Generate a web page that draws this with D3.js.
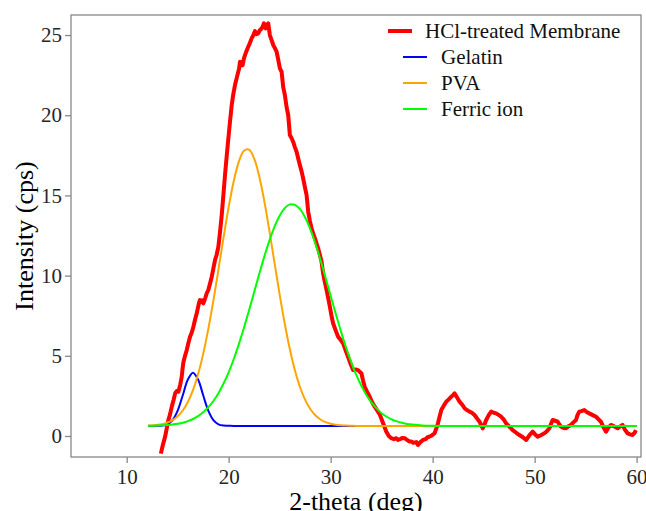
<!DOCTYPE html>
<html>
<head>
<meta charset="utf-8">
<script src="https://cdn.jsdelivr.net/npm/d3@7"></script>
<style>
  html, body { margin: 0; padding: 0; background: #fff; }
  svg { display: block; }
  text { font-family: "Liberation Serif", "Times New Roman", serif; }
</style>
</head>
<body>
<svg id="chart" width="646" height="511"></svg>
<script>
// ---------- DATA ----------
const seriesNames = ["HCl-treated Membrane", "Gelatin", "PVA", "Ferric ion"];
const seriesColors = ["#ff0000", "#0000ff", "#ffa500", "#00ff00"];

const xTicks = [10, 20, 30, 40, 50, 60];
const yTicks = [0, 5, 10, 15, 20, 25];

// measured membrane pattern (2-theta, intensity)
const membraneX = [13.35,13.55,13.77,13.95,14.09,14.25,14.42,14.60,14.75,14.90,15.07,15.25,15.40,15.48,15.56,15.72,15.89,16.05,16.21,16.38,16.54,16.70,16.87,17.02,17.12,17.19,17.30,17.42,17.52,17.70,17.85,18.00,18.17,18.34,18.50,18.66,18.82,18.99,19.15,19.32,19.48,19.64,19.80,19.97,20.13,20.30,20.45,20.62,20.78,20.94,21.02,21.11,21.22,21.37,21.48,21.60,21.75,21.92,22.08,22.25,22.42,22.58,22.72,22.90,23.05,23.23,23.35,23.46,23.55,23.65,23.75,23.88,23.95,24.04,24.20,24.37,24.52,24.70,24.85,25.02,25.19,25.35,25.51,25.68,25.84,26.00,26.15,26.32,26.50,26.66,26.82,26.98,27.15,27.30,27.48,27.64,27.80,27.97,28.13,28.30,28.45,28.62,28.77,28.94,29.10,29.26,29.43,29.60,29.76,29.92,30.08,30.24,30.48,30.73,30.97,31.22,31.46,31.71,31.95,32.20,32.45,32.69,32.85,33.02,33.18,33.34,33.58,33.83,34.07,34.32,34.56,34.81,35.05,35.20,35.46,35.70,35.95,36.20,36.44,36.60,36.85,37.05,37.26,37.50,37.75,37.91,38.10,38.40,38.56,38.80,39.05,39.30,39.50,39.70,39.95,40.19,40.35,40.52,40.68,40.85,41.10,41.34,41.60,41.83,42.00,42.15,42.40,42.64,42.90,43.13,43.40,43.62,43.85,44.11,44.35,44.60,44.75,44.92,45.10,45.25,45.50,45.74,46.00,46.23,46.50,46.72,47.00,47.21,47.50,47.85,48.20,48.51,48.85,49.17,49.50,49.81,50.05,50.30,50.60,50.96,51.20,51.45,51.60,51.77,52.00,52.26,52.45,52.59,52.85,53.08,53.30,53.57,53.80,54.06,54.20,54.38,54.60,54.87,55.10,55.36,55.70,56.02,56.25,56.50,56.75,57.00,57.25,57.49,57.80,58.13,58.40,58.62,58.85,59.11,59.35,59.60,59.80,59.93];
const membraneY = [-1.10,-0.55,-0.04,0.55,1.00,1.35,1.83,2.25,2.66,2.80,2.76,3.20,3.70,4.20,4.60,5.00,5.36,5.80,6.19,6.45,6.81,7.25,7.65,8.10,8.37,8.48,8.35,8.45,8.27,8.60,8.90,9.10,9.50,9.93,10.45,10.97,11.30,11.80,12.70,13.78,15.00,16.27,17.40,18.56,19.60,20.64,21.30,21.88,22.30,22.71,22.90,23.34,23.10,23.13,23.50,23.75,24.00,24.27,24.50,24.79,25.00,25.25,25.05,25.10,25.30,25.41,25.55,25.73,25.50,25.41,25.60,25.73,25.40,25.00,24.70,24.38,24.20,23.96,23.50,22.92,22.71,21.75,21.26,20.50,20.00,18.77,18.60,18.35,18.00,17.72,17.30,16.90,16.50,16.07,15.50,15.02,13.98,13.40,12.95,12.60,12.33,12.00,11.70,11.30,10.90,10.14,9.60,9.10,8.60,8.06,7.50,7.03,6.60,6.19,6.00,5.78,5.35,4.94,4.50,4.11,4.15,4.11,4.00,3.90,3.45,3.07,2.75,2.45,2.10,1.83,1.60,1.35,0.95,0.70,0.27,0.00,-0.14,-0.20,-0.14,-0.25,-0.18,-0.12,-0.14,-0.25,-0.35,-0.35,-0.42,-0.38,-0.56,-0.38,-0.25,-0.20,-0.08,-0.04,0.05,0.17,0.45,0.79,1.20,1.62,1.90,2.14,2.30,2.45,2.55,2.66,2.40,2.14,1.95,1.73,1.60,1.52,1.45,1.31,1.10,0.89,0.70,0.48,0.75,1.00,1.30,1.52,1.45,1.41,1.30,1.20,1.00,0.79,0.60,0.37,0.20,0.06,-0.08,-0.25,0.05,0.27,0.10,-0.04,0.05,0.17,0.30,0.48,0.75,1.00,0.95,0.89,0.70,0.58,0.50,0.48,0.60,0.69,0.85,1.00,1.30,1.52,1.55,1.62,1.50,1.41,1.30,1.20,1.05,0.89,0.55,0.27,0.55,0.69,0.60,0.48,0.60,0.69,0.40,0.17,0.10,0.06,0.20,0.37];

// fitted component curves, sampled on a common 2-theta grid
const fitX = [12.1,12.5,13.0,13.5,14.0,14.5,15.0,15.5,16.0,16.5,17.0,17.5,18.0,18.5,19.0,19.5,20.0,20.5,21.0,21.5,22.0,22.5,23.0,23.5,24.0,24.5,25.0,25.5,26.0,26.5,27.0,27.5,28.0,28.5,29.0,29.5,30.0,30.5,31.0,31.5,32.0,32.5,33.0,33.5,34.0,34.5,35.0,35.5,36.0,36.5,37.0,37.5,38.0,39.0,40.0,41.0,45.0,50.0,55.0,60.0];
const gelatinY = [0.63,0.63,0.64,0.65,0.73,0.99,1.58,2.54,3.52,3.95,3.52,2.54,1.58,0.99,0.73,0.65,0.64,0.63,0.63,0.63,0.63,0.63,0.63,0.63,0.63,0.63,0.63,0.63,0.63,0.63,0.63,0.63,0.63,0.63,0.63,0.63,0.63,0.63,0.63,0.63,0.63,0.63,0.63,0.63,0.63,0.63,0.63,0.63,0.63,0.63,0.63,0.63,0.63,0.63,0.63,0.63,0.63,0.63,0.63,0.63];
const pvaY = [0.65,0.66,0.69,0.74,0.84,0.99,1.23,1.59,2.12,2.86,3.85,5.12,6.66,8.44,10.39,12.38,14.27,15.90,17.11,17.79,17.85,17.29,16.18,14.62,12.77,10.78,8.82,7.00,5.41,4.09,3.04,2.25,1.68,1.29,1.03,0.86,0.76,0.70,0.67,0.65,0.64,0.63,0.63,0.63,0.63,0.63,0.63,0.63,0.63,0.63,0.63,0.63,0.63,0.63,0.63,0.63,0.63,0.63,0.63,0.63];
const ferricY = [0.64,0.64,0.65,0.67,0.69,0.72,0.76,0.83,0.93,1.06,1.24,1.48,1.79,2.18,2.67,3.27,3.97,4.80,5.73,6.75,7.84,8.97,10.11,11.20,12.20,13.06,13.74,14.21,14.44,14.41,14.14,13.62,12.90,12.01,10.98,9.88,8.74,7.62,6.54,5.53,4.62,3.82,3.14,2.56,2.09,1.72,1.42,1.20,1.03,0.91,0.82,0.75,0.71,0.66,0.64,0.63,0.63,0.63,0.63,0.63];

// ---------- LAYOUT ----------
const W = 646, H = 511;
const panel = { left: 71, top: 15, right: 641, bottom: 457 };
const svg = d3.select("#chart");

const x = d3.scaleLinear().domain([4.54, 60.43]).range([panel.left, panel.right]);
const y = d3.scaleLinear().domain([-1.31, 26.25]).range([panel.bottom, panel.top]);

const axisColor = "#888888";
const labelColor = "#262626";

svg.append("defs").append("clipPath").attr("id", "clip")
  .append("rect")
  .attr("x", panel.left).attr("y", panel.top)
  .attr("width", panel.right - panel.left).attr("height", panel.bottom - panel.top);

const plot = svg.append("g").attr("clip-path", "url(#clip)");

const line = d3.line().x(d => x(d[0])).y(d => y(d[1]));
const smooth = d3.line().x(d => x(d[0])).y(d => y(d[1])).curve(d3.curveCatmullRom.alpha(0.5));

const membrane = membraneX.map((v, i) => [v, membraneY[i]]);
plot.append("path").datum(membrane)
  .attr("d", line)
  .attr("fill", "none").attr("stroke", seriesColors[0])
  .attr("stroke-width", 4).attr("stroke-linejoin", "round").attr("stroke-linecap", "butt");

[gelatinY, pvaY, ferricY].forEach((ys, k) => {
  plot.append("path").datum(fitX.map((v, i) => [v, ys[i]]))
    .attr("d", smooth)
    .attr("fill", "none").attr("stroke", seriesColors[k + 1])
    .attr("stroke-width", 2).attr("stroke-linejoin", "round");
});

// panel border
svg.append("rect")
  .attr("x", panel.left).attr("y", panel.top)
  .attr("width", panel.right - panel.left).attr("height", panel.bottom - panel.top)
  .attr("fill", "none").attr("stroke", axisColor).attr("stroke-width", 1.3);

// axes
const gx = svg.append("g").attr("transform", `translate(0,${panel.bottom})`)
  .call(d3.axisBottom(x).tickValues(xTicks).tickSize(6).tickPadding(6).tickFormat(d3.format("d")));
const gy = svg.append("g").attr("transform", `translate(${panel.left},0)`)
  .call(d3.axisLeft(y).tickValues(yTicks).tickSize(6).tickPadding(3).tickFormat(d3.format("d")));
[gx, gy].forEach(g => {
  g.select(".domain").remove();
  g.selectAll(".tick line").attr("stroke", axisColor).attr("stroke-width", 1.3);
  g.selectAll(".tick text").attr("fill", labelColor)
    .style("font-family", '"Liberation Serif", serif').style("font-size", "21px");
});

// axis titles
svg.append("text")
  .attr("x", (panel.left + panel.right) / 2).attr("y", 510)
  .attr("text-anchor", "middle").attr("fill", "#000")
  .style("font-size", "26px").text("2-theta (deg)");
svg.append("text")
  .attr("transform", `translate(33,${(panel.top + panel.bottom) / 2}) rotate(-90)`)
  .attr("text-anchor", "middle").attr("fill", "#000")
  .style("font-size", "26px").text("Intensity (cps)");

// legend
const legendY = [31, 57, 83, 109];
const legendLineX = [[388, 412], [403, 427], [403, 427], [403, 427]];
const legendTextX = [425, 441, 441, 441];
const lg = svg.append("g");
seriesNames.forEach((name, i) => {
  lg.append("line")
    .attr("x1", legendLineX[i][0]).attr("x2", legendLineX[i][1])
    .attr("y1", legendY[i]).attr("y2", legendY[i])
    .attr("stroke", seriesColors[i]).attr("stroke-width", i === 0 ? 4 : 2);
  lg.append("text")
    .attr("x", legendTextX[i]).attr("y", legendY[i])
    .attr("dominant-baseline", "central").attr("fill", "#111")
    .style("font-size", "21px").text(name);
});
</script>
</body>
</html>
